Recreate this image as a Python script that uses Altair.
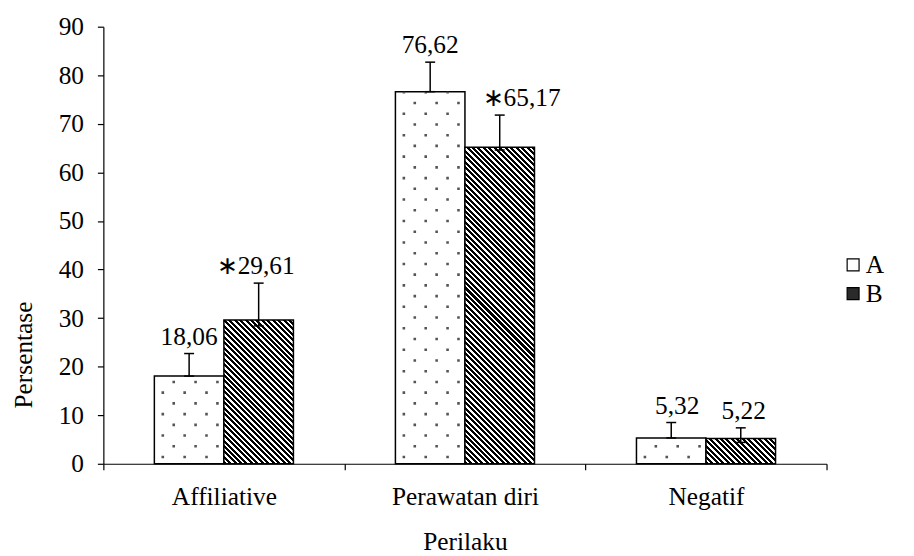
import altair as alt
import pandas as pd

# ---------------- data ----------------
categories = ["Affiliative", "Perawatan diri", "Negatif"]
groups = ["A", "B"]
a_values = [18.06, 76.62, 5.32]
b_values = [29.61, 65.17, 5.22]
a_err_high = [22.7, 82.7, 8.5]
b_err_high = [37.2, 71.8, 7.4]
a_err_low = [18.06, 76.62, 5.32]
b_err_low = [28.4, 64.6, 4.4]
a_labels = ["18,06", "76,62", "5,32"]
b_labels = ["\u221729,61", "\u221765,17", "5,22"]
y_ticks = [0, 10, 20, 30, 40, 50, 60, 70, 80, 90]

rows = []
for i, c in enumerate(categories):
    rows.append(dict(cat=c, group="A", value=a_values[i], lo=a_err_low[i],
                     hi=a_err_high[i], label=a_labels[i]))
    rows.append(dict(cat=c, group="B", value=b_values[i], lo=b_err_low[i],
                     hi=b_err_high[i], label=b_labels[i]))
df = pd.DataFrame(rows)
df["zero"] = 0.0

# ---------------- style ----------------
W, H = 728, 440
YMAX = 90
BAR_W = 70
FONT = "Liberation Serif"
FS = 25.5
# horizontal nudges (pixels) of the value labels, per category
A_LABEL_NUDGE = [0, 0, 6]
B_LABEL_NUDGE = [-3, 22, 3]


def hatch(w, h, period=5.5, frac=0.55):
    """Diagonal (top-left to bottom-right) black/white stripes as a linear gradient."""
    total = w + h
    a = w / total
    b = -h / total
    n2 = a * a + b * b
    x1, y1 = 0.0, 1.0
    x2, y2 = x1 + a / n2, y1 + b / n2
    step = period / total
    stops = []
    t = 0.0
    while t < 1.0:
        tm = min(t + step * frac, 1.0)
        te = min(t + step, 1.0)
        stops += [
            {"offset": round(t, 6), "color": "black"},
            {"offset": round(tm, 6), "color": "black"},
            {"offset": round(tm, 6), "color": "white"},
            {"offset": round(te, 6), "color": "white"},
        ]
        t += step
    return {"gradient": "linear", "x1": x1, "y1": y1, "x2": x2, "y2": y2, "stops": stops}


x_enc = alt.X(
    "cat:N",
    sort=categories,
    scale=alt.Scale(paddingInner=0, paddingOuter=0),
    axis=alt.Axis(
        title="Perilaku",
        tickBand="extent",
        labelAngle=0,
        labelFont=FONT,
        labelFontSize=FS,
        labelColor="black",
        labelPadding=15,
        tickSize=6,
        tickColor="black",
        tickWidth=1.2,
        domainColor="black",
        domainWidth=1.2,
        titleFont=FONT,
        titleFontSize=FS,
        titleFontWeight="normal",
        titleColor="black",
        titlePadding=20,
        grid=False,
    ),
)

y_scale = alt.Scale(domain=[0, YMAX], nice=False)
y_axis = alt.Axis(
    values=y_ticks,
    labelFont=FONT,
    labelFontSize=FS,
    labelColor="black",
    labelPadding=14,
    tickSize=6,
    tickColor="black",
    tickWidth=1.2,
    domainColor="black",
    domainWidth=1.2,
    titleFont=FONT,
    titleFontSize=FS,
    titleFontWeight="normal",
    titleColor="black",
    titleX=-67,
    titleY=330,
    grid=False,
)


def yq(field):
    return alt.Y(field, scale=y_scale, axis=y_axis, title="Persentase")


base = alt.Chart(df)

# A bars (white with dots)
bars_a = base.transform_filter("datum.group == 'A'").mark_bar(
    width=BAR_W, xOffset=-BAR_W / 2, fill="white", stroke="black", strokeWidth=1.5
).encode(x=x_enc, y=yq("value:Q"))

layers = [bars_a]

# B bars (hatched) -- one layer per bar so the hatch keeps a 45 degree angle
for i, c in enumerate(categories):
    hpx = b_values[i] / YMAX * H
    layers.append(
        base.transform_filter(f"datum.group == 'B' && datum.cat == '{c}'").mark_bar(
            width=BAR_W, xOffset=BAR_W / 2, fill=hatch(BAR_W, hpx),
            stroke="black", strokeWidth=1.5
        ).encode(x=x_enc, y=yq("value:Q"))
    )

# dot texture for A bars
DOT_PERIOD = 21.6
DOT = 2.6
for j in range(6):
    off = -BAR_W + 8.5 + 11 * j
    dash_off = 16.1 if j % 2 == 0 else 5.3
    layers.append(
        base.transform_filter("datum.group == 'A'").mark_rule(
            xOffset=off, stroke="#555555", strokeWidth=DOT,
            strokeDash=[DOT, DOT_PERIOD - DOT], strokeDashOffset=dash_off
        ).encode(x=x_enc, y=yq("zero:Q"), y2="value:Q")
    )

# error bars
for g, xo in (("A", -BAR_W / 2), ("B", BAR_W / 2)):
    sub = base.transform_filter(f"datum.group == '{g}'")
    layers.append(
        sub.mark_rule(xOffset=xo, stroke="black", strokeWidth=1.5).encode(
            x=x_enc, y=yq("lo:Q"), y2="hi:Q"
        )
    )
    layers.append(
        sub.mark_tick(xOffset=xo, color="black", size=10, thickness=1.5, opacity=1).encode(
            x=x_enc, y=yq("hi:Q")
        )
    )
    layers.append(
        sub.mark_tick(xOffset=xo, color="black", size=10, thickness=1.5, opacity=1).encode(
            x=x_enc, y=yq("lo:Q")
        )
    )

# value labels
for g, xo, nudges in (("A", -BAR_W / 2, A_LABEL_NUDGE), ("B", BAR_W / 2, B_LABEL_NUDGE)):
    for i, c in enumerate(categories):
        layers.append(
            base.transform_filter(f"datum.group == '{g}' && datum.cat == '{c}'").mark_text(
                xOffset=xo + nudges[i], dy=-9, baseline="alphabetic", align="center",
                font=FONT, fontSize=FS, color="black"
            ).encode(x=x_enc, y=yq("hi:Q"), text="label:N")
        )

# legend (invisible carrier layer)
layers.append(
    base.mark_square(opacity=0, size=1).encode(
        x=x_enc,
        y=yq("zero:Q"),
        fill=alt.Fill(
            "group:N",
            scale=alt.Scale(domain=groups, range=["white", "#2a2a2a"]),
            legend=alt.Legend(
                title=None,
                orient="none",
                legendX=742,
                legendY=227,
                symbolType="square",
                symbolSize=144,
                symbolOpacity=1,
                symbolStrokeColor="black",
                symbolStrokeWidth=1.2,
                labelFont=FONT,
                labelFontSize=FS,
                labelColor="black",
                labelOffset=0,
                rowPadding=2,
            ),
        ),
    )
)

chart = alt.layer(*layers).properties(
    width=W,
    height=H,
    autosize=alt.AutoSizeParams(type="none"),
    padding={"left": 96, "top": 17, "right": 80, "bottom": 90},
    background="white",
).configure_view(stroke=None)

chart.save("out.html", embed_options={"renderer": "svg", "actions": False})
